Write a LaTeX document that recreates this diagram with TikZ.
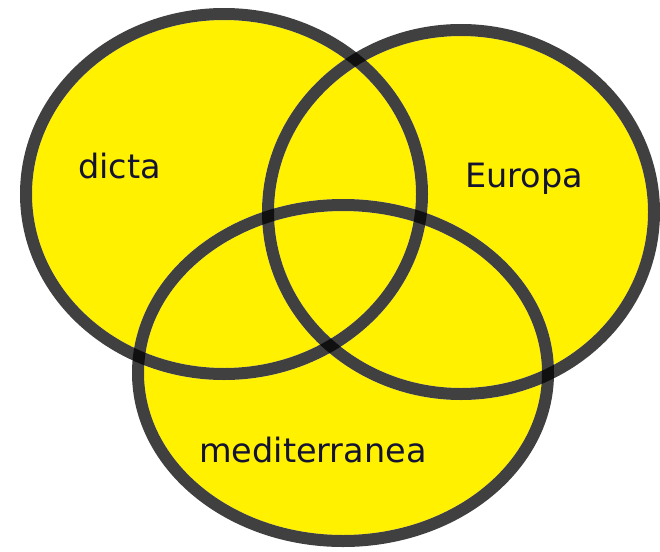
\documentclass[tikz,border=0pt]{standalone}
\usepackage{fontspec}
\setmainfont{DejaVu Sans}
\definecolor{vyellow}{RGB}{255,241,0}
\definecolor{vtext}{RGB}{20,20,50}
\tikzset{
  vfill/.style={fill=vyellow},
  vunder/.style={draw=white, line width=12pt},
  vline/.style={draw=black, draw opacity=0.75, line width=12pt},
  vlabel/.style={text=vtext, font=\fontsize{33.5}{38}\selectfont, inner sep=0pt}
}
\begin{document}
\begin{tikzpicture}[x=1pt,y=-1pt]
\useasboundingbox (0,0) rectangle (660,551);
\fill[white] (0,0) rectangle (660,551);
% fills
\path[vfill] (224,194) ellipse [x radius=198, y radius=180];
\path[vfill] (461,212) ellipse [x radius=193, y radius=182];
\path[vfill] (343,373) ellipse [x radius=205, y radius=168];
% outlines (opaque base, then translucent dark so crossings darken)
\path[vunder] (224,194) ellipse [x radius=198, y radius=180];
\path[vunder] (461,212) ellipse [x radius=193, y radius=182];
\path[vunder] (343,373) ellipse [x radius=205, y radius=168];
\path[vline] (224,194) ellipse [x radius=198, y radius=180];
\path[vline] (461,212) ellipse [x radius=193, y radius=182];
\path[vline] (343,373) ellipse [x radius=205, y radius=168];
% labels
\node[vlabel, anchor=base west] (dicta) at (78,178) {dicta};
\node[vlabel, anchor=base west] (europa) at (465,187) {Europa};
\node[vlabel, anchor=base west] (med) at (199,462) {mediterranea};
\end{tikzpicture}
\end{document}
